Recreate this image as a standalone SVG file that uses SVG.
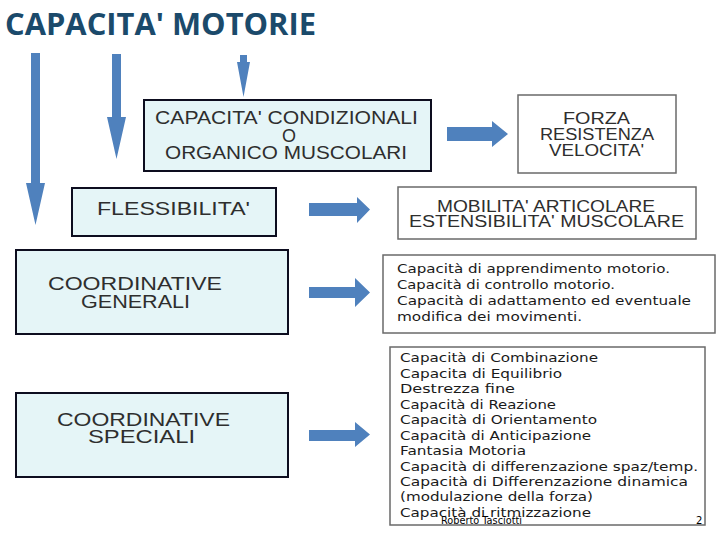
<svg xmlns="http://www.w3.org/2000/svg" width="720" height="540" viewBox="0 0 720 540">
<style>
.cy{fill:#e5f5f7;stroke:#0d0d1f;stroke-width:2}
.wb{fill:#ffffff;stroke:#6a6a6a;stroke-width:1.5}
.bt{font-family:"Liberation Sans",Arial,sans-serif;fill:#2e2e2e;text-anchor:start}
.lt{font-family:"DejaVu Sans","Verdana",sans-serif;font-size:13px;fill:#1a1a1a}
.ar{fill:#4f81bd}
</style>
<rect width="720" height="540" fill="#ffffff"/>
<text x="5" y="35" font-family="'Open Sans','DejaVu Sans',sans-serif" font-weight="bold" font-size="31" fill="#1b4a6b" textLength="311" lengthAdjust="spacingAndGlyphs">CAPACITA' MOTORIE</text>

<g id="connectors">
<polygon class="ar" points="31,53 40,53 40,183 45,183 35.5,225 26,183 31,183"/>
<polygon class="ar" points="112,54 121,54 121,117 126,117 116.5,159 107,117 112,117"/>
<polygon class="ar" points="240,55 247,55 247,62 250,62 243.5,97 237,62 240,62"/>
<polygon class="ar" points="447,127 492,127 492,121 508,134 492,147 492,141 447,141"/>
<polygon class="ar" points="309,203 357,203 357,197 370,209.5 357,223 357,216 309,216"/>
<polygon class="ar" points="309,287 355,287 355,278 370,292.5 355,307 355,298 309,298"/>
<polygon class="ar" points="309,430 355,430 355,422 370,434.5 355,447 355,441 309,441"/>
</g>

<g id="cond">
<rect class="cy" x="144" y="100" width="287" height="71"/>
<text class="bt" font-size="18" x="155" y="124" textLength="263" lengthAdjust="spacingAndGlyphs">CAPACITA' CONDIZIONALI</text>
<text class="bt" font-size="18" x="282" y="142" textLength="14" lengthAdjust="spacingAndGlyphs">O</text>
<text class="bt" font-size="18" x="165" y="159" textLength="242" lengthAdjust="spacingAndGlyphs">ORGANICO MUSCOLARI</text>
</g>

<g id="forza">
<rect class="wb" x="518" y="95" width="158" height="78"/>
<text class="bt" font-size="16" x="563" y="124" textLength="67" lengthAdjust="spacingAndGlyphs">FORZA</text>
<text class="bt" font-size="16" x="540" y="140" textLength="114" lengthAdjust="spacingAndGlyphs">RESISTENZA</text>
<text class="bt" font-size="16" x="549" y="156" textLength="95" lengthAdjust="spacingAndGlyphs">VELOCITA'</text>
</g>

<g id="fless">
<rect class="cy" x="72" y="188" width="204" height="48"/>
<text class="bt" font-size="18" x="97" y="215" textLength="153" lengthAdjust="spacingAndGlyphs">FLESSIBILITA'</text>
</g>

<g id="mobilita">
<rect class="wb" x="398" y="187" width="298" height="52"/>
<text class="bt" font-size="16" x="437" y="212" textLength="218" lengthAdjust="spacingAndGlyphs">MOBILITA' ARTICOLARE</text>
<text class="bt" font-size="16" x="409" y="227" textLength="275" lengthAdjust="spacingAndGlyphs">ESTENSIBILITA'  MUSCOLARE</text>
</g>

<g id="generali">
<rect class="cy" x="16" y="250" width="272" height="84"/>
<text class="bt" font-size="18" x="48" y="290" textLength="174" lengthAdjust="spacingAndGlyphs">COORDINATIVE</text>
<text class="bt" font-size="18" x="81" y="308" textLength="109" lengthAdjust="spacingAndGlyphs">GENERALI</text>
</g>

<g id="gen-list">
<rect class="wb" x="383" y="255" width="332" height="78"/>
<text class="lt" x="397" y="273" textLength="273" lengthAdjust="spacingAndGlyphs">Capacità di apprendimento motorio.</text>
<text class="lt" x="397" y="289" textLength="218" lengthAdjust="spacingAndGlyphs">Capacità di controllo motorio.</text>
<text class="lt" x="397" y="305" textLength="294" lengthAdjust="spacingAndGlyphs">Capacità di adattamento ed eventuale</text>
<text class="lt" x="397" y="321" textLength="185" lengthAdjust="spacingAndGlyphs">modifica dei movimenti.</text>
</g>

<g id="speciali">
<rect class="cy" x="16" y="393" width="272" height="84"/>
<text class="bt" font-size="18" x="57" y="426" textLength="173" lengthAdjust="spacingAndGlyphs">COORDINATIVE</text>
<text class="bt" font-size="18" x="88" y="443" textLength="107" lengthAdjust="spacingAndGlyphs">SPECIALI</text>
</g>

<g id="spec-list">
<rect class="wb" x="390" y="347" width="315" height="178"/>
<text class="lt" x="400" y="362" textLength="198" lengthAdjust="spacingAndGlyphs">Capacità di Combinazione</text>
<text class="lt" x="400" y="378" textLength="162" lengthAdjust="spacingAndGlyphs">Capacita di Equilibrio</text>
<text class="lt" x="400" y="393" textLength="115" lengthAdjust="spacingAndGlyphs">Destrezza  fine</text>
<text class="lt" x="400" y="409" textLength="156" lengthAdjust="spacingAndGlyphs">Capacità di Reazione</text>
<text class="lt" x="400" y="424" textLength="197" lengthAdjust="spacingAndGlyphs">Capacità di Orientamento</text>
<text class="lt" x="400" y="440" textLength="191" lengthAdjust="spacingAndGlyphs">Capacità di Anticipazione</text>
<text class="lt" x="400" y="455" textLength="126" lengthAdjust="spacingAndGlyphs">Fantasia Motoria</text>
<text class="lt" x="400" y="471" textLength="298" lengthAdjust="spacingAndGlyphs">Capacità di differenzazione spaz/temp.</text>
<text class="lt" x="400" y="486" textLength="288" lengthAdjust="spacingAndGlyphs">Capacità di Differenzazione  dinamica</text>
<text class="lt" x="400" y="501" textLength="193" lengthAdjust="spacingAndGlyphs">(modulazione della forza)</text>
<text class="lt" x="400" y="517" textLength="191" lengthAdjust="spacingAndGlyphs">Capacità di ritmizzazione</text>
<text x="441" y="524" font-family="'DejaVu Sans',sans-serif" font-size="10" fill="#000" textLength="81" lengthAdjust="spacingAndGlyphs">Roberto Tasciotti</text>
<text x="696" y="524" font-family="'DejaVu Sans',sans-serif" font-size="10" fill="#000">2</text>
</g>
</svg>
